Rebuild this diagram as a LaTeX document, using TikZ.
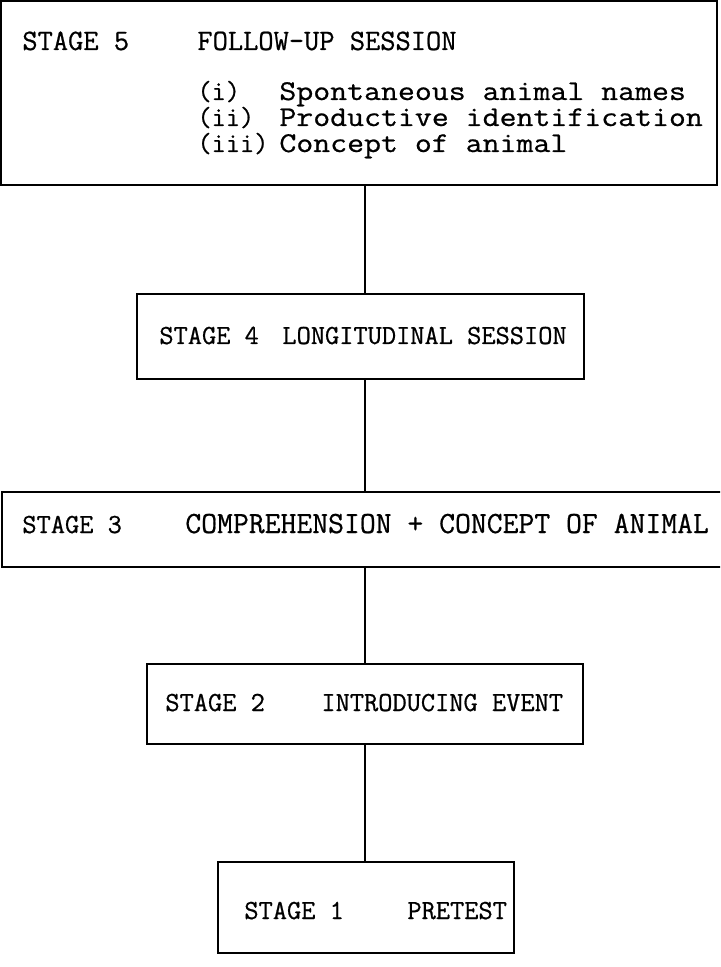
\documentclass[tikz,border=0pt]{standalone}
\usepackage{fontspec}
\newfontfamily\typewriter[FakeBold=0.7]{Latin Modern Mono}
\newfontfamily\typewide[FakeBold=0.7,FakeStretch=1.15]{Latin Modern Mono}
\usetikzlibrary{positioning}
\begin{document}
\begin{tikzpicture}[x=0.5pt,y=-0.5pt]
        % Styles des cadres et des traits
        \tikzstyle{stagebox} = [draw, line width=1pt, inner sep=0pt]
        \tikzstyle{link} = [line width=1.4pt]
        \tikzstyle{txt} = [inner sep=0pt, anchor=base west, font=\fontsize{13.8}{16}\selectfont\typewriter]
        \tikzstyle{toptxt} = [txt, font=\fontsize{14.8}{16}\selectfont\typewriter]
        \tikzstyle{itemtxt} = [txt, font=\fontsize{14.3}{16}\selectfont\typewide]
        \tikzstyle{bigtxt} = [txt, font=\fontsize{15.4}{16}\selectfont\typewriter]

        % Cadre de la page
        \useasboundingbox (0,0) rectangle (720,967);
        \clip (0,0) rectangle (720,967);

        % Les cinq cadres
        \node[stagebox, minimum width=358pt, minimum height=92pt] (s5) at (359,93) {};
        \node[stagebox, minimum width=223.5pt, minimum height=42.5pt] (s4) at (360.5,336.5) {};
        \node[stagebox, minimum width=369pt, minimum height=37.5pt] (s3) at (371,529.5) {};
        \node[stagebox, minimum width=218pt, minimum height=40pt] (s2) at (365,704) {};
        \node[stagebox, minimum width=148pt, minimum height=45.5pt] (s1) at (366,907.5) {};

        % Textes des cadres
        \node[toptxt] (st5) at (22,50) {STAGE 5};
        \node[toptxt] (ti5) at (197,50) {FOLLOW-UP SESSION};
        \foreach \y/\n/\t in {100/i/Spontaneous animal names,126/ii/Productive identification,152/iii/Concept of animal}{
            \node[txt] (num-\n) at (197,\y) {(\n)};
            \node[itemtxt] (it-\n) at (279,\y) {\t};
        }
        \node[txt] (st4) at (159,344) {STAGE 4};
        \node[txt] (ti4) at (282,344) {LONGITUDINAL SESSION};
        \node[txt] (st3) at (22,533) {STAGE 3};
        \node[bigtxt] (ti3) at (185,533) {COMPREHENSION + CONCEPT OF ANIMAL};
        \node[txt] (st2) at (165,711) {STAGE 2};
        \node[txt] (ti2) at (321,711) {INTRODUCING EVENT};
        \node[txt] (st1) at (244,919) {STAGE 1};
        \node[txt] (ti1) at (407,919) {PRETEST};

        % Traits verticaux entre les cadres
        \coordinate (axis) at (365,0);
        \draw[link] (s5.south -| axis) -- (s4.north -| axis);
        \draw[link] (s4.south -| axis) -- (s3.north -| axis);
        \draw[link] (s3.south -| axis) -- (s2.north -| axis);
        \draw[link] (s2.south -| axis) -- (s1.north -| axis);
\end{tikzpicture}
\end{document}
